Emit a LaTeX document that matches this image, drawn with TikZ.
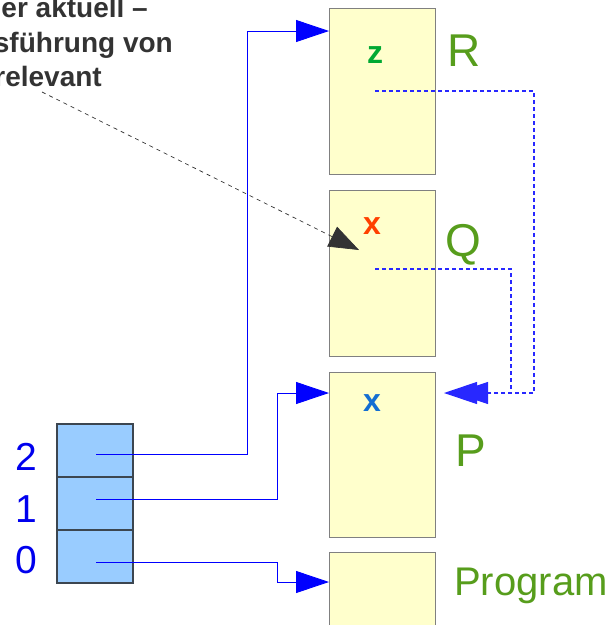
\documentclass[tikz,border=0pt]{standalone}
\usepackage{fontspec}
\setmainfont{Liberation Sans}
\usepackage{tikz}
\usetikzlibrary{arrows.meta,calc}
\usepackage{xcolor}
\definecolor{paleyellow}{RGB}{255,255,204}
\definecolor{framegray}{RGB}{128,128,128}
\definecolor{slotblue}{RGB}{153,204,255}
\definecolor{slotedge}{RGB}{60,70,80}
\definecolor{ptrblue}{RGB}{0,0,255}
\definecolor{linkblue}{RGB}{40,40,255}
\definecolor{labgreen}{RGB}{87,157,28}
\definecolor{varz}{RGB}{0,169,51}
\definecolor{varq}{RGB}{255,64,0}
\definecolor{varp}{RGB}{20,110,210}
\definecolor{notegray}{RGB}{51,51,51}
\definecolor{idxblue}{RGB}{0,0,238}
\tikzset{
    frame/.style={draw=framegray, fill=paleyellow, line width=1pt,
                  minimum width=106pt, minimum height=#1, inner sep=0pt},
    slot/.style={draw=slotedge, fill=slotblue, line width=1.2pt,
                 minimum width=76pt, minimum height=53pt, inner sep=0pt},
    ptr/.style={draw=ptrblue, line width=0.9pt,
                -{Triangle[length=33pt,width=22pt]}},
    link/.style={draw=linkblue, line width=1.2pt, dash pattern=on 4pt off 3pt,
                 -{Triangle[length=33pt,width=22pt]}},
    hint/.style={draw=notegray, line width=0.7pt, dash pattern=on 4pt off 4pt,
                 -{Triangle[length=30pt,width=22pt,fill=notegray]}},
    tag/.style={text=labgreen, font=\fontsize{#1}{#1}\selectfont,
                inner sep=0pt, anchor=base west},
    var/.style={text=#1, font=\bfseries\fontsize{32}{32}\selectfont,
                inner sep=0pt, anchor=base},
    idx/.style={text=idxblue, font=\fontsize{39}{39}\selectfont,
                inner sep=0pt, anchor=base west},
    note/.style={text=notegray, font=\bfseries\fontsize{28}{28}\selectfont,
                 inner sep=0pt, anchor=base east},
}
\begin{document}
\begin{tikzpicture}[x=1pt, y=-1pt]
    \useasboundingbox (0,0) rectangle (611,625);
    \clip (0,0) rectangle (611,625);
    % frames
    \node[frame=166pt] (boxR) at (382.5,91) {};
    \node[frame=166pt] (boxQ) at (382.5,273) {};
    \node[frame=165pt] (boxP) at (382.5,454.5) {};
    \node[frame=148pt] (boxProg) at (382.5,626) {};
    % array
    \node[slot] (c2) at (95,450.5) {};
    \node[slot] (c1) at (95,503.5) {};
    \node[slot] (c0) at (95,556.5) {};
    \coordinate (p2) at (96,454);
    \coordinate (p1) at (96,499);
    \coordinate (p0) at (96,562);
    \coordinate (rz) at (375,91);
    \coordinate (qx) at (375,269);
    \coordinate (hit) at (359,250);
    \coordinate (tail) at (42,92);
    % pointers
    \draw[ptr] (p2) -| (247,31) -- (boxR.west |- 0,31);
    \draw[ptr] (p1) -| (277,393) -- (boxP.west |- 0,393);
    \draw[ptr] (p0) -| (277,582) -- (boxProg.west |- 0,582);
    \draw[link] (rz) -| (534,393) -- ([xshift=8pt]boxP.east |- 0,393);
    \draw[link] (qx) -| (511,393) -- ([xshift=19pt]boxP.east |- 0,393);
    \draw[hint] (tail) -- (hit);
    % labels
    \node[var=varz] (vz) at (375,63) {z};
    \node[var=varq] (vq) at (372,234) {x};
    \node[var=varp] (vp) at (372,411) {x};
    \node[tag=46] (lR) at (447,66) {R};
    \node[tag=46] (lQ) at (445,256) {Q};
    \node[tag=46] (lP) at (455,466) {P};
    \node[tag=40] (lProg) at (454,595) {Program};
    \node[idx] (i2) at (15,470) {2};
    \node[idx] (i1) at (15,522) {1};
    \node[idx] (i0) at (15,573) {0};
    \node[note] (note1) at (148,17) {er aktuell –};
    \node[note] (note2) at (173,52) {sführung von};
    \node[note] (note3) at (102,86) {relevant};
\end{tikzpicture}
\end{document}
